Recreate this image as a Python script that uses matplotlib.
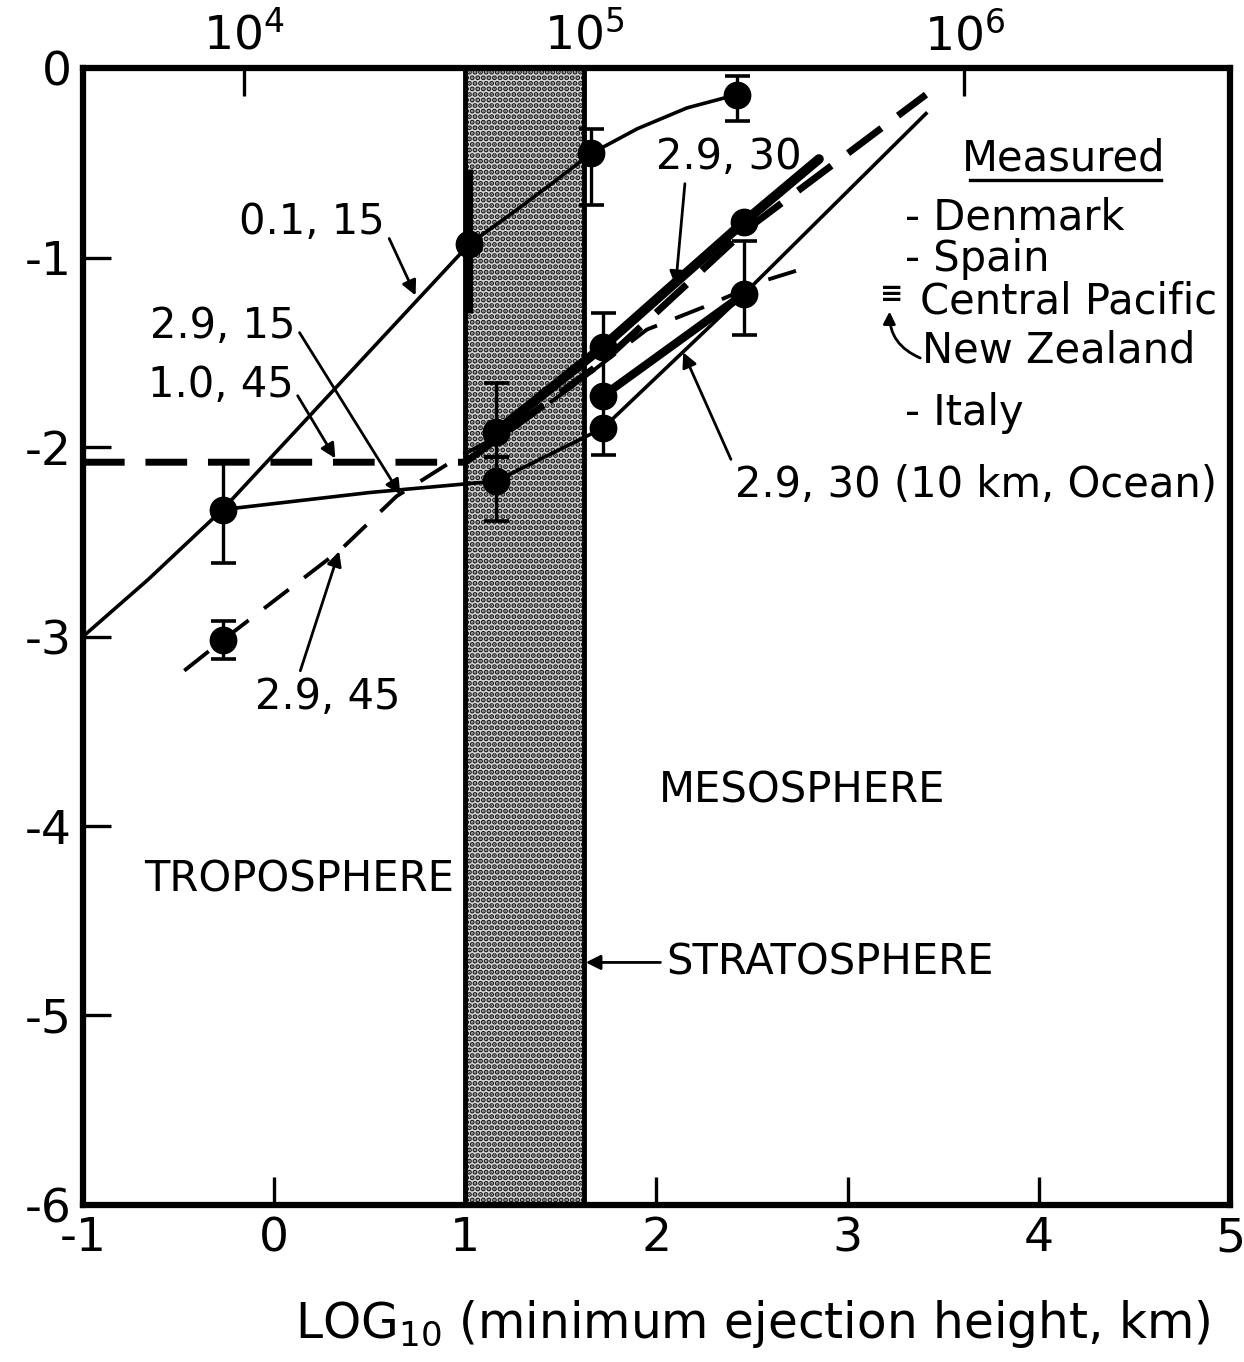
import matplotlib.pyplot as plt
import numpy as np

plt.rcParams['font.family'] = 'DejaVu Sans'
plt.rcParams['axes.unicode_minus'] = False
plt.rcParams['hatch.linewidth'] = 2.6

# curves: x = log10 min ejection height (km)
x_01_15 = [-1.0, -0.66, -0.27, 1.02, 1.32, 1.66, 1.90, 2.16, 2.42]
y_01_15 = [-3.0, -2.70, -2.33, -0.93, -0.71, -0.45, -0.32, -0.21, -0.14]

x_29_15 = [-0.27, 0.5, 1.16, 1.72, 2.46, 3.41]
y_29_15 = [-2.33, -2.24, -2.18, -1.90, -1.19, -0.24]

x_29_30 = [1.12, 1.16, 1.72, 2.46, 2.85]
y_29_30 = [-1.95, -1.92, -1.47, -0.81, -0.48]

x_10_45 = [-1.0, 1.0, 1.72, 2.46, 3.41]
y_10_45 = [-2.08, -2.08, -1.55, -0.86, -0.14]

x_ocean = [1.72, 2.46]
y_ocean = [-1.73, -1.19]

x_29_45 = [-0.47, -0.27, 0.35, 0.64, 0.97, 1.27, 1.56, 1.95, 2.25, 2.57, 2.73]
y_29_45 = [-3.18, -3.02, -2.54, -2.26, -2.05, -1.89, -1.68, -1.38, -1.26, -1.12, -1.07]

# measured points
dots_x = [-0.27, -0.27, 1.02, 1.66, 2.42, 1.16, 1.16, 1.72, 1.72, 1.72, 2.46, 2.46]
dots_y = [-2.33, -3.02, -0.93, -0.45, -0.14, -1.92, -2.18, -1.47, -1.73, -1.90, -0.81, -1.19]

# error bars
bar_x = [-0.27, -0.27, 1.66, 2.42, 1.16, 1.16, 1.72, 2.46]
bar_lo = [-2.61, -3.12, -0.72, -0.28, -2.05, -2.39, -2.04, -1.41]
bar_hi = [-2.08, -2.92, -0.32, -0.04, -1.66, -2.05, -1.29, -0.91]
thick_bar = (1.02, -1.29, -0.53)

strat = (1.0, 1.62)
top_ticks = [-0.16, 1.62, 3.61]
top_labels = [r'$10^4$', r'$10^5$', r'$10^6$']

fig = plt.figure(figsize=(12.44, 13.62), dpi=100)
ax = fig.add_axes([0.0667, 0.1153, 0.922, 0.8347])

ax.axvspan(strat[0], strat[1], facecolor='#d8d8d8', edgecolor='#1a1a1a', hatch='...', lw=0, zorder=1)
ax.axvline(strat[0], color='k', lw=3.5, zorder=2)
ax.axvline(strat[1], color='k', lw=3.5, zorder=2)

ax.plot(x_01_15, y_01_15, color='k', lw=2.6, zorder=3)
ax.plot(x_29_15, y_29_15, color='k', lw=2.6, zorder=3)
ax.plot(x_29_30, y_29_30, color='k', lw=7, solid_capstyle='round', zorder=3)
ax.plot(x_10_45, y_10_45, color='k', lw=5, dashes=(6, 3), zorder=4)
ax.plot(x_ocean, y_ocean, color='k', lw=6, zorder=3)
ax.plot(x_29_45, y_29_45, color='k', lw=2.8, dashes=(8, 5), zorder=3)

mid = [(a + b) / 2 for a, b in zip(bar_lo, bar_hi)]
ax.errorbar(bar_x, mid, yerr=[np.subtract(mid, bar_lo), np.subtract(bar_hi, mid)],
            fmt='none', ecolor='k', elinewidth=2.4, capsize=9, capthick=2.6, zorder=5)
ax.vlines(thick_bar[0], thick_bar[1], thick_bar[2], color='k', lw=5, zorder=5)
ax.plot(dots_x, dots_y, 'o', color='k', ms=19, zorder=6)

ax.set_xlim(-1, 5)
ax.set_ylim(-6, 0)
ax.set_xticks(range(-1, 6))
ax.set_yticks(range(-6, 1))
ax.tick_params(direction='in', length=20, width=2.4, labelsize=34, pad=8)
for s in ax.spines.values():
    s.set_linewidth(4.5)

ax2 = ax.twiny()
ax2.set_xlim(-1, 5)
ax2.set_xticks(top_ticks)
ax2.set_xticklabels(top_labels)
ax2.tick_params(direction='in', length=20, width=2.4, labelsize=34, pad=6)

fs = 30
ap = dict(arrowstyle='-|>', color='k', lw=2, mutation_scale=22, shrinkA=2, shrinkB=0)
ax.annotate('0.1, 15', xy=(0.74, -1.2), xytext=(0.2, -0.81), fontsize=fs, ha='center', va='center',
            arrowprops=dict(ap, relpos=(1, 0.3)))
ax.annotate('2.9, 30', xy=(2.1, -1.15), xytext=(2.38, -0.47), fontsize=fs, ha='center', va='center',
            arrowprops=dict(ap, relpos=(0.2, 0)))
ax.annotate('2.9, 15', xy=(0.66, -2.25), xytext=(-0.27, -1.36), fontsize=fs, ha='center', va='center',
            arrowprops=dict(ap, relpos=(1, 0.5)))
ax.annotate('1.0, 45', xy=(0.32, -2.06), xytext=(-0.28, -1.67), fontsize=fs, ha='center', va='center',
            arrowprops=dict(ap, relpos=(1, 0.4)))
ax.annotate('2.9, 45', xy=(0.34, -2.55), xytext=(0.28, -3.32), fontsize=fs, ha='center', va='center',
            arrowprops=dict(ap, relpos=(0.3, 1)))
ax.annotate('2.9, 30 (10 km, Ocean)', xy=(2.14, -1.5), xytext=(2.41, -2.2), fontsize=fs, ha='left',
            va='center', arrowprops=dict(ap, relpos=(0, 0.9)))
ax.annotate('STRATOSPHERE', xy=(1.63, -4.72), xytext=(2.05, -4.72), fontsize=fs, ha='left',
            va='center', arrowprops=dict(ap, relpos=(0, 0.5)))
ax.text(2.76, -3.81, 'MESOSPHERE', fontsize=fs, ha='center', va='center')
ax.text(0.13, -4.28, 'TROPOSPHERE', fontsize=fs, ha='center', va='center')

# measured key
ax.text(4.13, -0.475, 'Measured', fontsize=fs, ha='center', va='center')
ax.plot([3.64, 4.64], [-0.59, -0.59], color='k', lw=2.4)
ax.text(3.30, -0.79, '- Denmark', fontsize=fs, ha='left', va='center')
ax.text(3.30, -1.01, '- Spain', fontsize=fs, ha='left', va='center')
ax.text(3.23, -1.19, '\u2261', fontsize=20, ha='center', va='center', fontweight='bold')
ax.text(3.38, -1.23, 'Central Pacific', fontsize=fs, ha='left', va='center')
ax.text(3.39, -1.49, 'New Zealand', fontsize=fs, ha='left', va='center')
ax.annotate('', xy=(3.22, -1.27), xytext=(3.38, -1.53),
            arrowprops=dict(arrowstyle='-|>', color='k', lw=2, mutation_scale=18, shrinkA=0,
                            connectionstyle='arc3,rad=-0.35'))
ax.text(3.30, -1.82, '- Italy', fontsize=fs, ha='left', va='center')

fig.text(0.605, 0.028, r'LOG$_{\mathregular{10}}$ (minimum ejection height, km)', fontsize=35,
         ha='center', va='center')

fig.savefig('out.png', dpi=100)
